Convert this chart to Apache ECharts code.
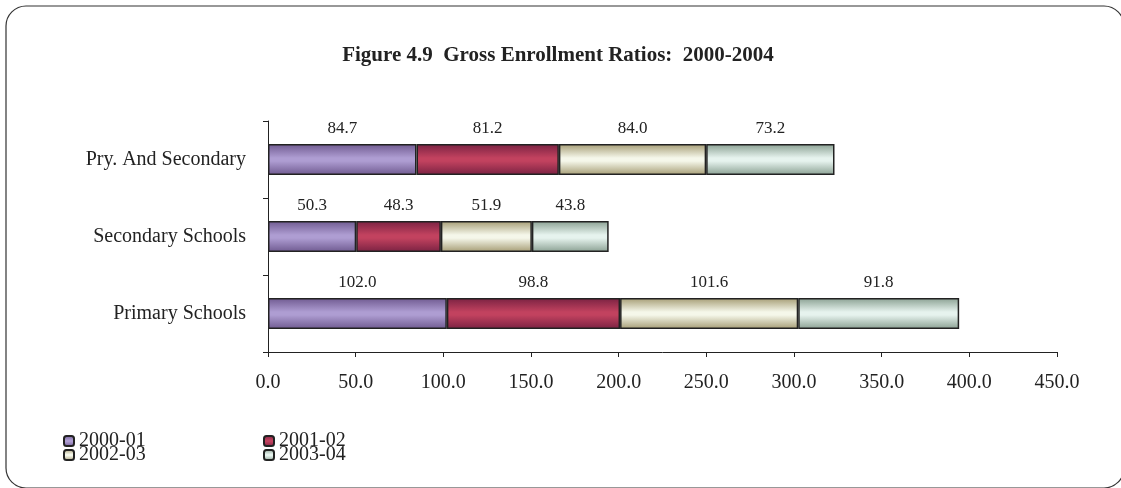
<!DOCTYPE html>
<html>
<head>
<meta charset="utf-8">
<script src="https://cdn.jsdelivr.net/npm/echarts@6/dist/echarts.min.js"></script>
<style>html,body{margin:0;padding:0;background:#fff}#c{width:1121px;height:488px}</style>
</head>
<body>
<div id="c"></div>
<script>
var categories = ['Pry. And Secondary', 'Secondary Schools', 'Primary Schools'];
var seriesNames = ['2000-01', '2001-02', '2002-03', '2003-04'];
var v2000 = [84.7, 50.3, 102.0];
var v2001 = [81.2, 48.3, 98.8];
var v2002 = [84.0, 51.9, 101.6];
var v2003 = [73.2, 43.8, 91.8];
var xTicks = [0, 50, 100, 150, 200, 250, 300, 350, 400, 450];

var values = [v2000, v2001, v2002, v2003];
var shades = [
  ['#6f5a90', '#ae9dd2'],
  ['#7a2242', '#c2425f'],
  ['#a59c74', '#f5f7ea'],
  ['#8aa092', '#e6f3ee']
];
function grad(c) {
  return new echarts.graphic.LinearGradient(0, 0, 0, 1, [
    {offset: 0, color: c[0]}, {offset: 0.45, color: c[1]},
    {offset: 0.55, color: c[1]}, {offset: 1, color: c[0]}
  ]);
}
var font = 'Liberation Serif';
var chart = echarts.init(document.getElementById('c'));
chart.setOption({
  animation: false,
  backgroundColor: '#fff',
  title: {
    text: 'Figure 4.9  Gross Enrollment Ratios:  2000-2004',
    left: 553, textAlign: 'center', top: 40,
    textStyle: {fontFamily: font, fontSize: 21, fontWeight: 'bold', color: '#222'}
  },
  graphic: [{
    type: 'rect', silent: true, z: -1,
    shape: {x: 6, y: 6, width: 1118, height: 482, r: 20},
    style: {fill: 'none', stroke: '#333', lineWidth: 1.2}
  }],
  legend: [{
    orient: 'vertical', left: 58, top: 426, itemGap: -6,
    itemWidth: 10, itemHeight: 10,
    data: [seriesNames[0], seriesNames[2]],
    textStyle: {fontFamily: font, fontSize: 20, color: '#222'}
  }, {
    orient: 'vertical', left: 258, top: 426, itemGap: -6,
    itemWidth: 10, itemHeight: 10,
    data: [seriesNames[1], seriesNames[3]],
    textStyle: {fontFamily: font, fontSize: 20, color: '#222'}
  }],
  grid: {left: 268, right: 64, top: 121, bottom: 136, containLabel: false},
  xAxis: {
    type: 'value', min: xTicks[0], max: xTicks[xTicks.length - 1], interval: 50,
    axisLine: {show: true, lineStyle: {color: '#222'}},
    axisTick: {show: true, length: 5, lineStyle: {color: '#222'}},
    splitLine: {show: false},
    axisLabel: {fontFamily: font, fontSize: 20, color: '#222', margin: 21,
      formatter: function (v) { return v.toFixed(1); }}
  },
  yAxis: {
    type: 'category', data: categories, inverse: true,
    axisLine: {show: true, lineStyle: {color: '#222'}},
    axisTick: {show: true, length: 5, inside: false, lineStyle: {color: '#222'}},
    axisLabel: {fontFamily: font, fontSize: 20, color: '#222', margin: 22}
  },
  series: seriesNames.map(function (n, i) {
    return {
      name: n, type: 'bar', stack: 'total', barWidth: 31, data: values[i],
      itemStyle: {color: grad(shades[i]), borderColor: '#222', borderWidth: 1.5},
      label: {show: true, position: 'top', distance: 7, fontFamily: font, fontSize: 17, color: '#222',
        formatter: function (p) { return p.value.toFixed(1); }}
    };
  })
});
</script>
</body>
</html>
